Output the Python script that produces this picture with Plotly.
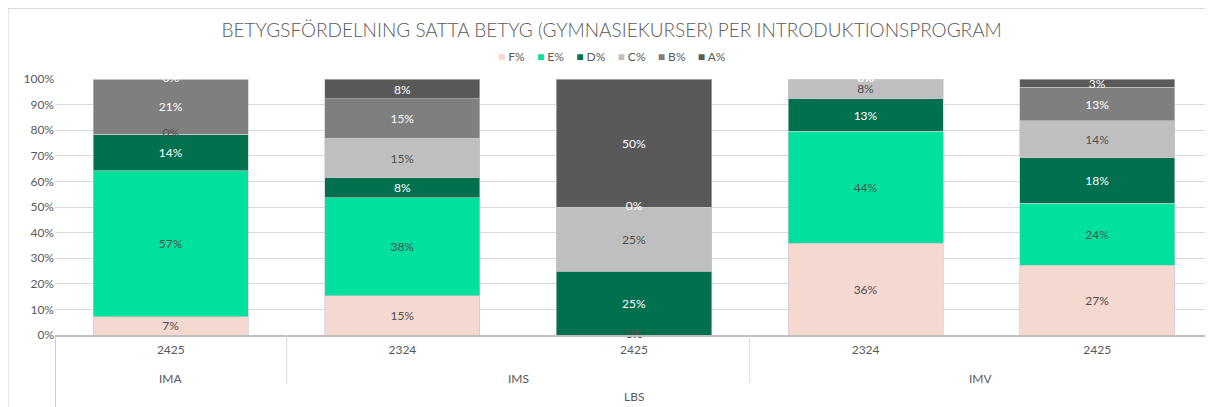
import plotly.graph_objects as go

programs = ["IMA", "IMS", "IMS", "IMV", "IMV"]
years = ["2425", "2324", "2425", "2324", "2425"]
school = "LBS"

series_names = ["F%", "E%", "D%", "C%", "B%", "A%"]
F = [7.1, 15.4, 0.0, 35.9, 27.3]
E = [57.1, 38.3, 0.0, 43.6, 24.2]
D = [14.3, 7.7, 25.0, 12.8, 17.8]
C = [0.0, 15.4, 25.0, 7.7, 14.3]
B = [21.4, 15.4, 0.0, 0.0, 13.2]
A = [0.0, 7.7, 50.0, 0.0, 3.2]
values = [F, E, D, C, B, A]

colors = ["#F5D8CF", "#00E09E", "#00704F", "#BFBFBF", "#7F7F7F", "#595959"]
text_colors = ["#505050", "#505050", "#FFFFFF", "#505050", "#FFFFFF", "#FFFFFF"]

FONT = "Lato"
GREY = "#595959"
TITLE = "BETYGSFÖRDELNING SATTA BETYG (GYMNASIEKURSER) PER INTRODUKTIONSPROGRAM"

cats = [f"{p} {y}" for p, y in zip(programs, years)]

fig = go.Figure()
base = [0.0] * len(cats)
for name, vals, col, tcol in zip(series_names, values, colors, text_colors):
    fig.add_trace(go.Bar(
        name=name,
        x=cats,
        y=vals,
        marker=dict(color=col, line=dict(color="#C8C8C8", width=0.6)),
        texttemplate="%{y:.0f}%",
        textposition="inside",
        insidetextanchor="middle",
        textfont=dict(color=tcol, size=12, family=FONT),
        showlegend=False,
    ))
    # labels for zero-height segments (drawn at the stack position)
    zx = [c for c, v in zip(cats, vals) if v == 0]
    zy = [b for b, v in zip(base, vals) if v == 0]
    if zx:
        fig.add_trace(go.Scatter(
            x=zx, y=zy, mode="text", text=["0%"] * len(zx),
            textposition="middle center",
            textfont=dict(color=tcol, size=12, family=FONT),
            showlegend=False, hoverinfo="skip", cliponaxis=False,
        ))
    base = [b + v for b, v in zip(base, vals)]

fig.update_layout(
    barmode="stack",
    bargap=0.33,
    width=1205,
    height=399,
    margin=dict(l=47, r=0, t=71, b=72),
    paper_bgcolor="white",
    plot_bgcolor="white",
    font=dict(family=FONT, color=GREY, size=12),
    uniformtext=dict(minsize=12, mode="show"),
    title=dict(
        text=TITLE,
        x=0.501, xanchor="center", y=0.945, yanchor="middle",
        font=dict(size=19, color=GREY, family=FONT, weight=300),
    ),
    showlegend=False,
)

fig.update_yaxes(
    range=[0, 100], dtick=10, ticksuffix="%",
    showgrid=True, gridcolor="#D9D9D9", gridwidth=1,
    zeroline=False, showline=False,
    tickfont=dict(size=12, color=GREY, family=FONT),
)
fig.update_xaxes(
    type="category", range=[-0.5, len(cats) - 0.5],
    tickvals=cats, ticktext=years, ticks="", ticklabelstandoff=3,
    showline=True, linecolor="#BFBFBF", linewidth=1.5,
    tickfont=dict(size=12, color=GREY, family=FONT),
)

# legend drawn as a compact text line
legend_parts = [
    f"<span style='color:{c}'>■</span> {n}" for n, c in zip(series_names, colors)
]
fig.add_annotation(
    text="    ".join(legend_parts), xref="paper", yref="paper",
    x=0.481, y=1.086, showarrow=False, xanchor="center", yanchor="middle",
    font=dict(size=12, color=GREY, family=FONT),
)

# program level labels and dividers
groups = []
for i, p in enumerate(programs):
    if groups and groups[-1][0] == p:
        groups[-1][2] = i
    else:
        groups.append([p, i, i])
for p, i0, i1 in groups:
    fig.add_annotation(
        text=p, xref="x", yref="paper", x=(i0 + i1) / 2, y=-0.168,
        showarrow=False, yanchor="middle",
        font=dict(size=12, color=GREY, family=FONT),
    )
bounds = [g[1] - 0.5 for g in groups] + [groups[-1][2] + 0.5]
for k, xb in enumerate(bounds):
    outer = k in (0, len(bounds) - 1)
    fig.add_shape(type="line", xref="x", yref="paper",
                  x0=xb, x1=xb, y0=0, y1=-0.285 if outer else -0.1875,
                  line=dict(color="#BFBFBF" if outer else "#D9D9D9",
                            width=1.5 if outer else 1))

# school level label
fig.add_annotation(
    text=school, xref="paper", yref="paper", x=0.5, y=-0.242,
    showarrow=False, yanchor="middle",
    font=dict(size=12, color=GREY, family=FONT),
)

# chart border
fig.add_shape(type="rect", xref="paper", yref="paper",
              x0=-0.0404, x1=1.2, y0=-0.6, y1=1.2754,
              line=dict(color="#D9D9D9", width=1), layer="below")

fig.write_html("out.html")
